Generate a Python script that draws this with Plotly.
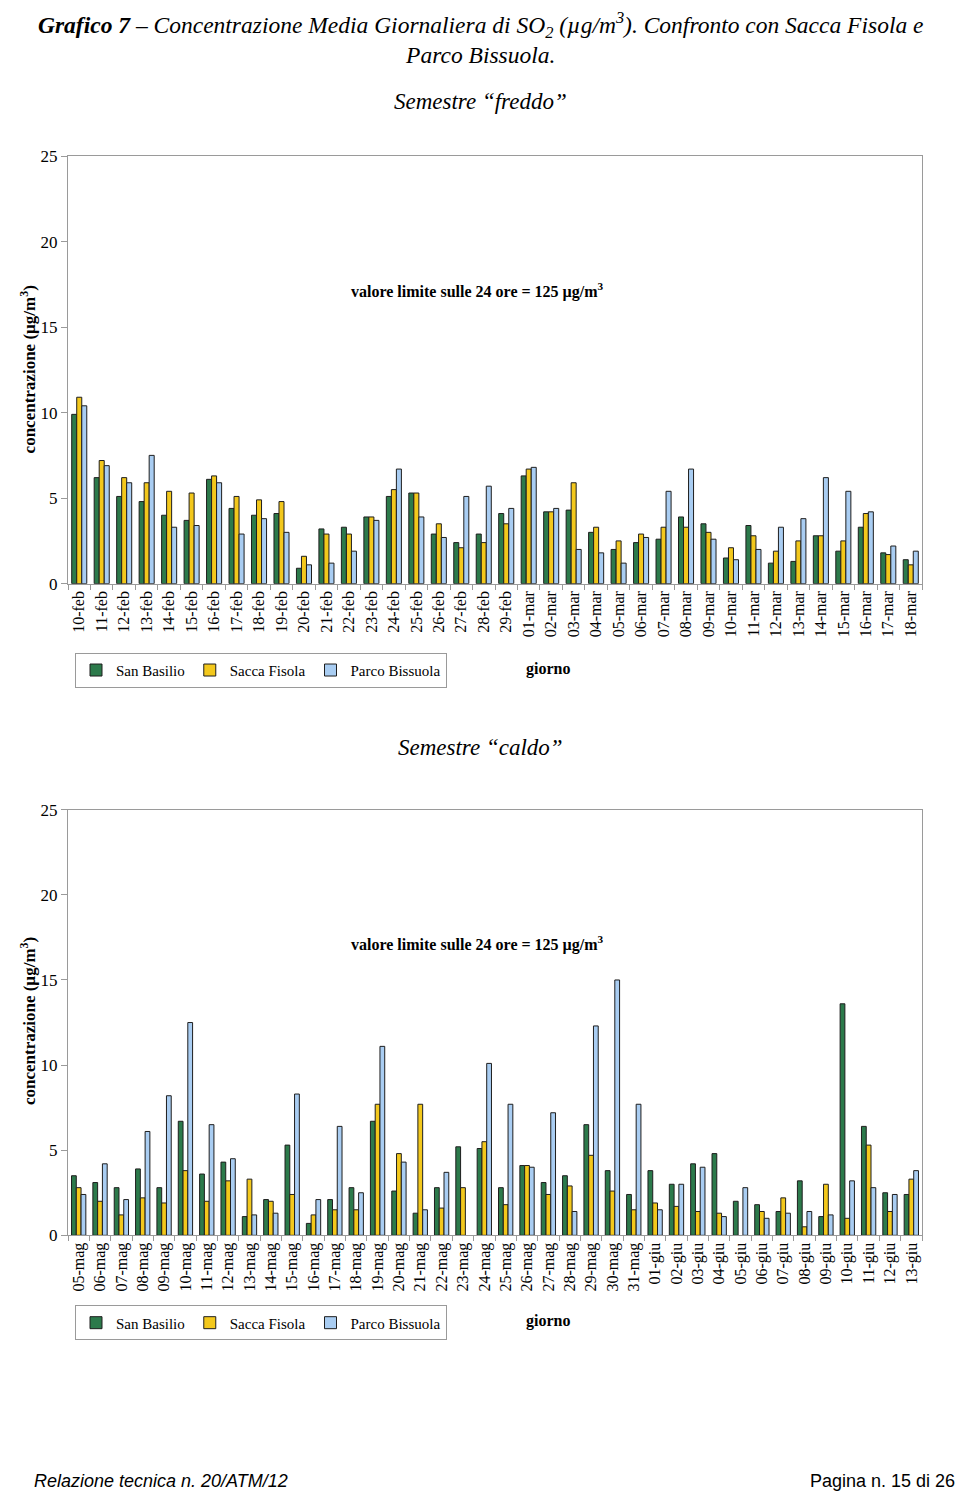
import plotly.graph_objects as go

# ---------------- data ----------------
cold_days = ["10-feb", "11-feb", "12-feb", "13-feb", "14-feb", "15-feb", "16-feb", "17-feb", "18-feb", "19-feb",
             "20-feb", "21-feb", "22-feb", "23-feb", "24-feb", "25-feb", "26-feb", "27-feb", "28-feb", "29-feb",
             "01-mar", "02-mar", "03-mar", "04-mar", "05-mar", "06-mar", "07-mar", "08-mar", "09-mar", "10-mar",
             "11-mar", "12-mar", "13-mar", "14-mar", "15-mar", "16-mar", "17-mar", "18-mar"]
cold_san_basilio = [9.9, 6.2, 5.1, 4.8, 4.0, 3.7, 6.1, 4.4, 4.0, 4.1,
                    0.9, 3.2, 3.3, 3.9, 5.1, 5.3, 2.9, 2.4, 2.9, 4.1,
                    6.3, 4.2, 4.3, 3.0, 2.0, 2.4, 2.6, 3.9, 3.5, 1.5,
                    3.4, 1.2, 1.3, 2.8, 1.9, 3.3, 1.8, 1.4]
cold_sacca_fisola = [10.9, 7.2, 6.2, 5.9, 5.4, 5.3, 6.3, 5.1, 4.9, 4.8,
                     1.6, 2.9, 2.9, 3.9, 5.5, 5.3, 3.5, 2.1, 2.4, 3.5,
                     6.7, 4.2, 5.9, 3.3, 2.5, 2.9, 3.3, 3.3, 3.0, 2.1,
                     2.8, 1.9, 2.5, 2.8, 2.5, 4.1, 1.7, 1.1]
cold_parco_bissuola = [10.4, 6.9, 5.9, 7.5, 3.3, 3.4, 5.9, 2.9, 3.8, 3.0,
                       1.1, 1.2, 1.9, 3.7, 6.7, 3.9, 2.7, 5.1, 5.7, 4.4,
                       6.8, 4.4, 2.0, 1.8, 1.2, 2.7, 5.4, 6.7, 2.6, 1.4,
                       2.0, 3.3, 3.8, 6.2, 5.4, 4.2, 2.2, 1.9]

warm_days = ["05-mag", "06-mag", "07-mag", "08-mag", "09-mag", "10-mag", "11-mag", "12-mag", "13-mag", "14-mag",
             "15-mag", "16-mag", "17-mag", "18-mag", "19-mag", "20-mag", "21-mag", "22-mag", "23-mag", "24-mag",
             "25-mag", "26-mag", "27-mag", "28-mag", "29-mag", "30-mag", "31-mag", "01-giu", "02-giu", "03-giu",
             "04-giu", "05-giu", "06-giu", "07-giu", "08-giu", "09-giu", "10-giu", "11-giu", "12-giu", "13-giu"]
warm_san_basilio = [3.5, 3.1, 2.8, 3.9, 2.8, 6.7, 3.6, 4.3, 1.1, 2.1,
                    5.3, 0.7, 2.1, 2.8, 6.7, 2.6, 1.3, 2.8, 5.2, 5.1,
                    2.8, 4.1, 3.1, 3.5, 6.5, 3.8, 2.4, 3.8, 3.0, 4.2,
                    4.8, 2.0, 1.8, 1.4, 3.2, 1.1, 13.6, 6.4, 2.5, 2.4]
warm_sacca_fisola = [2.8, 2.0, 1.2, 2.2, 1.9, 3.8, 2.0, 3.2, 3.3, 2.0,
                     2.4, 1.2, 1.5, 1.5, 7.7, 4.8, 7.7, 1.6, 2.8, 5.5,
                     1.8, 4.1, 2.4, 2.9, 4.7, 2.6, 1.5, 1.9, 1.7, 1.4,
                     1.3, None, 1.4, 2.2, 0.5, 3.0, 1.0, 5.3, 1.4, 3.3]
warm_parco_bissuola = [2.4, 4.2, 2.1, 6.1, 8.2, 12.5, 6.5, 4.5, 1.2, 1.3,
                       8.3, 2.1, 6.4, 2.5, 11.1, 4.3, 1.5, 3.7, None, 10.1,
                       7.7, 4.0, 7.2, 1.4, 12.3, 15.0, 7.7, 1.5, 3.0, 4.0,
                       1.1, 2.8, 1.0, 1.3, 1.4, 1.2, 3.2, 2.8, 2.4, 3.8]

series_names = ["San Basilio", "Sacca Fisola", "Parco Bissuola"]
series_colors = ["#2c7a4b", "#f3c81c", "#a9cdf2"]
y_ticks = [0, 5, 10, 15, 20, 25]

W, H = 960, 1505
SERIF = "Liberation Serif, Times New Roman, serif"
SANS = "Liberation Sans, Arial, sans-serif"


def px_x(x):
    return x / W


def px_y(y):
    return 1 - y / H


fig = go.Figure()

cold = [cold_san_basilio, cold_sacca_fisola, cold_parco_bissuola]
warm = [warm_san_basilio, warm_sacca_fisola, warm_parco_bissuola]

for name, col, vals in zip(series_names, series_colors, cold):
    fig.add_trace(go.Bar(x=cold_days, y=vals, name=name, marker=dict(color=col, line=dict(color="#1e1e1e", width=1)),
                         xaxis="x", yaxis="y", legend="legend"))
for name, col, vals in zip(series_names, series_colors, warm):
    fig.add_trace(go.Bar(x=warm_days, y=vals, name=name, marker=dict(color=col, line=dict(color="#1e1e1e", width=1)),
                         xaxis="x2", yaxis="y2", legend="legend2"))

axis_common_x = dict(type="category", showline=True, linecolor="#9a9a9a", linewidth=1, mirror=True,
                     ticks="outside", ticklen=5, tickcolor="#9a9a9a", tickson="boundaries",
                     tickangle=-90, tickfont=dict(family=SERIF, size=16, color="#000"), showgrid=False,
                     zeroline=False)
axis_common_y = dict(range=[0, 25], tickvals=y_ticks, showline=True, linecolor="#9a9a9a", linewidth=1, mirror=True,
                     ticks="outside", ticklen=6, tickcolor="#9a9a9a", showgrid=False, zeroline=False,
                     tickfont=dict(family=SERIF, size=17, color="#000"))

top_y0, top_y1 = 582, 149
bot_y0, bot_y1 = 1242, 811
x0, x1 = 68, 922

legend_common = dict(xanchor="left", yanchor="top", orientation="h",
                     bordercolor="#9a9a9a", borderwidth=1, bgcolor="white",
                     font=dict(family=SERIF, size=15, color="#000"), itemwidth=30, tracegroupgap=0)

fig.update_layout(
    width=W, height=H,
    margin=dict(l=0, r=0, t=0, b=0),
    paper_bgcolor="white", plot_bgcolor="white",
    barmode="group", bargap=0.33, bargroupgap=0,
    xaxis=dict(domain=[px_x(x0), px_x(x1)], anchor="y", **axis_common_x),
    yaxis=dict(domain=[px_y(top_y0), px_y(top_y1)], anchor="x", **axis_common_y),
    xaxis2=dict(domain=[px_x(x0), px_x(x1)], anchor="y2", **axis_common_x),
    yaxis2=dict(domain=[px_y(bot_y0), px_y(bot_y1)], anchor="x2", **axis_common_y),
    legend=dict(x=px_x(75), y=px_y(652), **legend_common),
    legend2=dict(x=px_x(75), y=px_y(1313), **legend_common),
    font=dict(family=SERIF, color="#000"),
)

ann = []
ann.append(dict(x=px_x(480), y=px_y(29), xref="paper", yref="paper", xanchor="center", yanchor="middle",
                text="<b><i>Grafico 7</i></b><i> – Concentrazione Media Giornaliera di SO<sub>2</sub> (µg/m<sup>3</sup>). Confronto con Sacca Fisola e<br>Parco Bissuola.</i>",
                showarrow=False, align="center", font=dict(family=SERIF, size=23.5, color="#000")))
ann.append(dict(x=px_x(480), y=px_y(94), xref="paper", yref="paper", xanchor="center", yanchor="middle",
                text="<i>Semestre “freddo”</i>", showarrow=False, font=dict(family=SERIF, size=23, color="#000")))
ann.append(dict(x=px_x(480), y=px_y(748), xref="paper", yref="paper", xanchor="center", yanchor="middle",
                text="<i>Semestre “caldo”</i>", showarrow=False, font=dict(family=SERIF, size=23, color="#000")))
for yc in (365, 1025):
    ann.append(dict(x=px_x(28), y=px_y(yc), xref="paper", yref="paper", xanchor="center", yanchor="middle",
                    text="<b>concentrazione (µg/m<sup>3</sup>)</b>", textangle=-90, showarrow=False,
                    font=dict(family=SERIF, size=17, color="#000")))
for yc in (285, 946):
    ann.append(dict(x=px_x(477), y=px_y(yc), xref="paper", yref="paper", xanchor="center", yanchor="middle",
                    text="<b>valore limite sulle 24 ore = 125 µg/m<sup>3</sup></b>", showarrow=False,
                    font=dict(family=SERIF, size=16, color="#000")))
for yc in (668, 1329):
    ann.append(dict(x=px_x(548), y=px_y(yc), xref="paper", yref="paper", xanchor="center", yanchor="middle",
                    text="<b>giorno</b>", showarrow=False, font=dict(family=SERIF, size=16, color="#000")))
ann.append(dict(x=px_x(32), y=px_y(1491), xref="paper", yref="paper", xanchor="left", yanchor="middle",
                text="<i>Relazione tecnica n. 20/ATM/12</i>", showarrow=False,
                font=dict(family=SANS, size=18, color="#000")))
ann.append(dict(x=px_x(957), y=px_y(1491), xref="paper", yref="paper", xanchor="right", yanchor="middle",
                text="Pagina n. 15 di 26", showarrow=False, font=dict(family=SANS, size=18, color="#000")))
fig.update_layout(annotations=ann)

fig.write_html("out.html", config={"displayModeBar": False},
               post_script="document.body.style.margin='0';document.body.style.overflow='hidden';")
